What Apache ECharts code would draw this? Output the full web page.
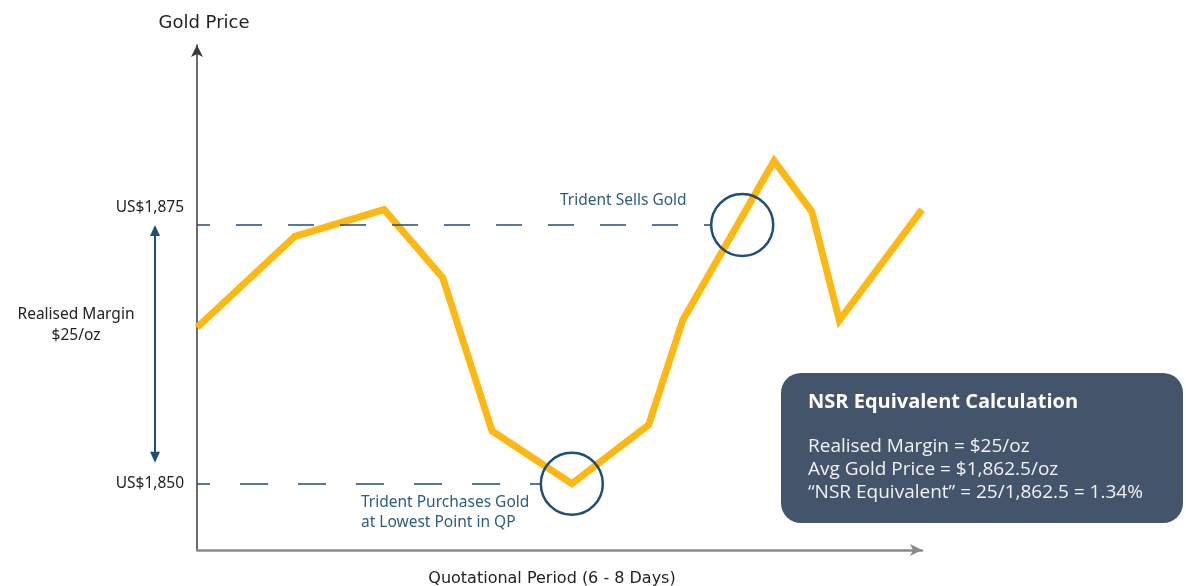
<!DOCTYPE html>
<html>
<head>
<meta charset="utf-8">
<script src="https://cdn.jsdelivr.net/npm/echarts@6/dist/echarts.min.js"></script>
<style>
html, body { margin: 0; padding: 0; background: #fff; }
#main { width: 1186px; height: 586px; }
</style>
</head>
<body>
<div id="main"></div>
<script>
// position inside the quotational period (0 = start, 100 = end)
var periodPos = [0, 13.5, 25.8, 33.9, 40.7, 51.7, 62.3, 67.0, 79.6, 84.8, 88.6, 100];
// gold price, US$/oz
var goldPrice = [1865.1, 1873.9, 1876.5, 1869.9, 1855.1, 1850, 1855.7, 1865.8, 1881.2, 1876.3, 1865.8, 1876.5];
var priceTicks = [1850, 1875];
var buyPrice = 1850;
var sellPrice = 1875;
var buyPos = 51.7;
var sellPos = 75.2;
var boxLines = [
  'Realised Margin = $25/oz',
  'Avg Gold Price = $1,862.5/oz',
  '\u201cNSR Equivalent\u201d = 25/1,862.5 = 1.34%'
];

var navy = '#1f4e79';
var lineData = periodPos.map(function (p, i) { return [p, goldPrice[i]]; });

var options = {
  animation: false,
  grid: { left: 197, right: 264, top: 45, bottom: 36 },
  title: [
    {
      text: 'Gold Price', left: 199, top: 9, textAlign: 'center',
      textStyle: { fontFamily: 'DejaVu Sans', fontSize: 18, fontWeight: 'normal', color: '#222' }
    },
    {
      text: 'Quotational Period (6 - 8 Days)', left: 547, top: 566, textAlign: 'center',
      textStyle: { fontFamily: 'DejaVu Sans', fontSize: 16, fontWeight: 'normal', color: '#222' }
    }
  ],
  xAxis: {
    type: 'value', min: 0, max: 100,
    axisLine: { show: true, symbol: ['none', 'arrow'], symbolSize: [9, 12], lineStyle: { color: '#8a8a8a', width: 2.5 } },
    axisTick: { show: false }, axisLabel: { show: false }, splitLine: { show: false }
  },
  yAxis: {
    type: 'value', min: 1843.6, max: 1892.4,
    axisLine: { show: true, symbol: ['none', 'arrow'], symbolSize: [9, 12], lineStyle: { color: '#3a3a3a', width: 1.5 } },
    axisTick: { show: false }, splitLine: { show: false },
    axisLabel: {
      customValues: priceTicks,
      margin: 13,
      fontFamily: 'Noto Sans', fontSize: 15.5, color: '#222',
      formatter: function (v) {
        var s = 'US$' + v.toLocaleString('en-US');
        return v === sellPrice ? '{up|' + s + '}' : s;
      },
      rich: { up: { fontFamily: 'Noto Sans', fontSize: 15.5, color: '#222', padding: [0, 0, 34, 0] } }
    }
  },
  series: [
    {
      type: 'line',
      data: lineData,
      symbol: 'none',
      lineStyle: { color: '#fdb813', width: 7, join: 'miter' },
      z: 3,
      markLine: {
        silent: true, symbol: 'none', label: { show: false },
        data: [
          [{ coord: [0, sellPrice], lineStyle: { color: navy, width: 1.5, type: [26, 26], dashOffset: 13 } },
           { coord: [sellPos - 4.3, sellPrice] }],
          [{ coord: [0, buyPrice], lineStyle: { color: navy, width: 1.5, type: [28, 30], dashOffset: 15 } },
           { coord: [buyPos - 4.3, buyPrice] }]
        ]
      },
      markPoint: {
        silent: true, symbol: 'circle', symbolSize: 62, label: { show: false },
        itemStyle: { color: 'rgba(0,0,0,0)', borderColor: navy, borderWidth: 2.5 },
        data: [
          { coord: [sellPos, sellPrice] },
          { coord: [buyPos, buyPrice] }
        ]
      }
    }
  ],
  graphic: [
    {
      id: 'sellText', type: 'text', left: 560, top: 193,
      style: { text: 'Trident Sells Gold', fill: '#2e5c80', font: '15.5px "Noto Sans"' }
    },
    {
      id: 'buyText', type: 'text', left: 361, top: 493,
      style: { text: 'Trident Purchases Gold\nat Lowest Point in QP', fill: '#2e5c80', font: '15.5px "Noto Sans"', lineHeight: 20 }
    },
    {
      id: 'marginText', type: 'text', x: 76, y: 304,
      style: { text: 'Realised Margin\n$25/oz', fill: '#222', font: '15.5px "Noto Sans"', lineHeight: 21, align: 'center' }
    },
    {
      id: 'box', type: 'rect', shape: { x: 781, y: 373, width: 402, height: 150, r: 20 },
      style: { fill: '#44546a' }
    },
    {
      id: 'boxTitle', type: 'text', left: 808, top: 392,
      style: { text: 'NSR Equivalent Calculation', fill: '#fff', font: 'bold 20px "Open Sans"' }
    },
    {
      id: 'boxBody', type: 'text', left: 808, top: 435,
      style: { text: boxLines.join('\n'), fill: '#f2f2f2', font: '19px "Open Sans"', lineHeight: 23 }
    }
  ]
};

var myChart = echarts.init(document.getElementById('main'));
myChart.setOption(options);

// two-headed margin arrow between the buy and sell price levels
var yTop = myChart.convertToPixel({ yAxisIndex: 0 }, sellPrice);
var yBot = myChart.convertToPixel({ yAxisIndex: 0 }, buyPrice) - 21;
var ax = 155;
myChart.setOption({
  graphic: [
    { id: 'arrowShaft', type: 'line', shape: { x1: ax, y1: yTop + 8, x2: ax, y2: yBot - 8 }, style: { stroke: navy, lineWidth: 2 } },
    { id: 'arrowUp', type: 'polygon', shape: { points: [[ax, yTop], [ax - 5, yTop + 11], [ax + 5, yTop + 11]] }, style: { fill: navy } },
    { id: 'arrowDown', type: 'polygon', shape: { points: [[ax, yBot], [ax - 5, yBot - 11], [ax + 5, yBot - 11]] }, style: { fill: navy } }
  ]
});
</script>
</body>
</html>
